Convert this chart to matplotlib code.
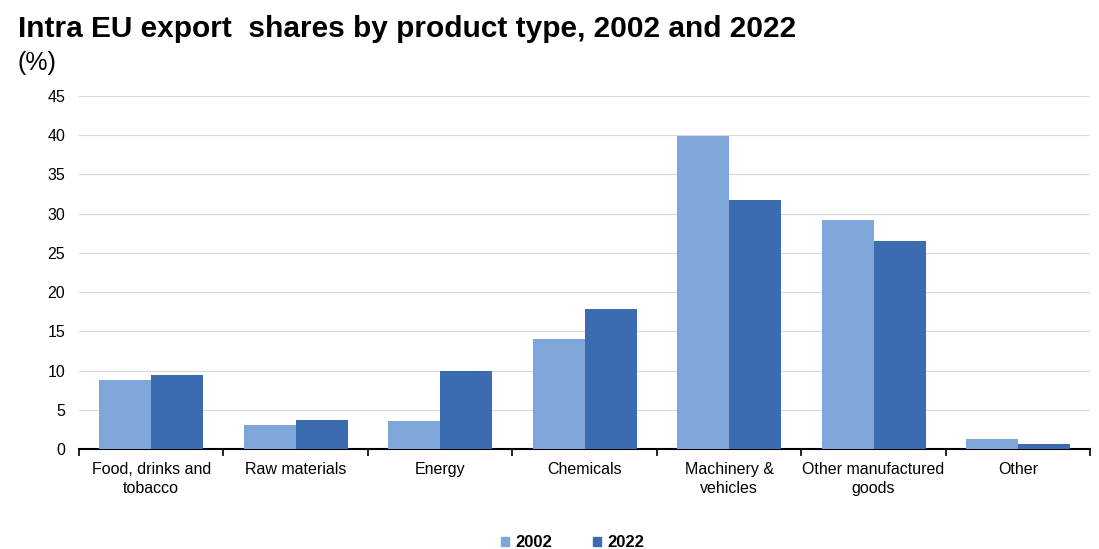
import matplotlib
matplotlib.use("Agg")
import matplotlib.pyplot as plt
import numpy as np
from matplotlib.patches import Patch

plt.rcParams['font.family'] = ['Liberation Sans', 'DejaVu Sans']

categories = ["Food, drinks and\ntobacco", "Raw materials", "Energy", "Chemicals",
              "Machinery &\nvehicles", "Other manufactured\ngoods", "Other"]
share_2002 = [8.8, 3.05, 3.6, 14.0, 39.9, 29.2, 1.3]
share_2022 = [9.5, 3.7, 10.0, 17.8, 31.7, 26.5, 0.65]
years = ["2002", "2022"]
colors = ["#7EA6D9", "#3C6CB0"]

fig = plt.figure(figsize=(10.99, 5.49), dpi=100)
ax = fig.add_axes([0.0719, 0.1821, 0.9201, 0.6430])

x = np.arange(len(categories))
w = 0.36
ax.bar(x - w / 2, share_2002, w, color=colors[0], zorder=3)
ax.bar(x + w / 2, share_2022, w, color=colors[1], zorder=3)

ax.set_xlim(-0.5, len(categories) - 0.5)
ax.set_ylim(0, 45)
ax.set_yticks(np.arange(0, 46, 5))
ax.yaxis.grid(True, color="#d9d9d9", linewidth=0.8, zorder=0)
ax.tick_params(axis="y", length=0, pad=10, labelsize=11.5)

ax.set_xticks(x)
ax.set_xticklabels(categories, fontsize=11.5, linespacing=1.4)
ax.tick_params(axis="x", which="major", length=0, pad=9)
ax.set_xticks(np.arange(-0.5, len(categories) - 0.4, 1), minor=True)
ax.tick_params(axis="x", which="minor", length=5, width=1.2, color="black")

for s in ["top", "right", "left"]:
    ax.spines[s].set_visible(False)
ax.spines["bottom"].set_color("black")
ax.spines["bottom"].set_linewidth(1.5)

fig.text(0.016, 0.932, "Intra EU export  shares by product type, 2002 and 2022",
         fontsize=21.5, fontweight="bold", ha="left", va="baseline")
fig.text(0.016, 0.872, "(%)", fontsize=18, ha="left", va="baseline")

handles = [Patch(color=c, label=y) for c, y in zip(colors, years)]
fig.legend(handles=handles, loc="lower center", bbox_to_anchor=(0.521, -0.03), ncol=2,
           frameon=False, prop={"weight": "bold", "size": 12},
           handlelength=0.5, handleheight=0.5, handletextpad=0.4, columnspacing=2.4)

fig.savefig("out.png", dpi=100)
